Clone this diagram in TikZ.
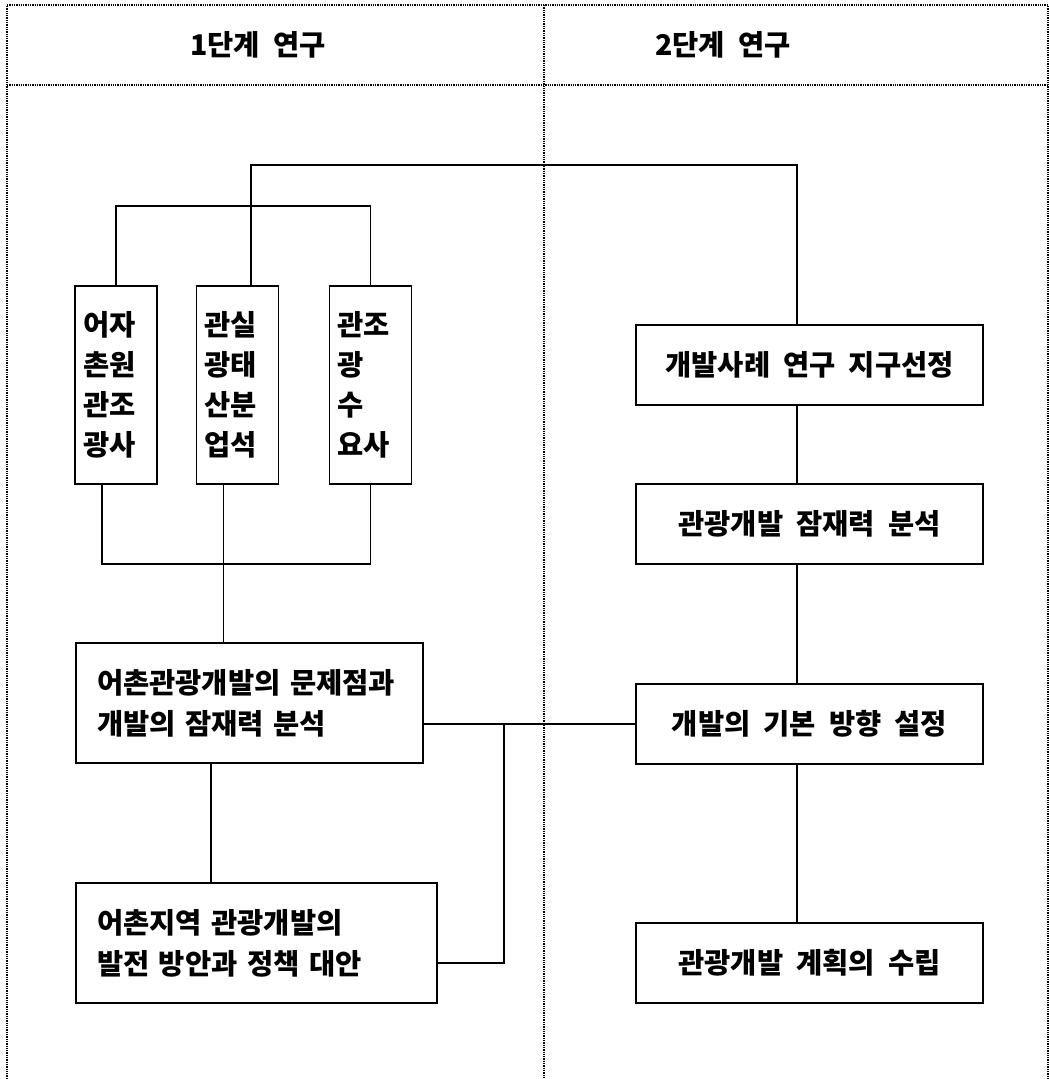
\documentclass[tikz,border=0pt]{standalone}
\usepackage{fontspec}
\newfontfamily\kr{Noto Sans CJK KR}[WordSpace=2]
\begin{document}
\begin{tikzpicture}[x=1pt,y=-1pt,
  frame/.style={densely dotted,line width=1.3pt},
  conn/.style={line width=1.6pt},
  txt/.style={font=\kr\bfseries\fontsize{28.5}{40}\selectfont},
  sbox/.style={draw,line width=1.7pt,txt,align=left,text width=66pt,inner xsep=8pt,inner ysep=0pt,minimum height=198pt},
  bbox/.style={draw,line width=1.7pt,font=\kr\bfseries\fontsize{28.5}{41}\selectfont,align=left,inner xsep=21pt,inner ysep=0pt,minimum height=120pt},
  rbox/.style={draw,line width=1.7pt,txt,align=center,minimum width=347pt,minimum height=80pt,inner sep=0pt}]
\useasboundingbox (0,0) rectangle (1049,1079);
% frame
\draw[frame] (7,1079) -- (7,5) -- (1048,5) -- (1048,1079);
\draw[frame] (7,85) -- (1048,85);
\draw[frame] (544,5) -- (544,1079);
% headers
\node[txt,anchor=west,inner sep=0pt] (h1) at (190,45) {1단계 연구};
\node[txt,anchor=west,inner sep=0pt] (h2) at (655,45) {2단계 연구};
% left column
\node[sbox] (b1) at (116,385) {\mbox{어자}\\\mbox{촌원}\\\mbox{관조}\\\mbox{광사}};
\node[sbox] (b2) at (237.5,385) {\mbox{관실}\\\mbox{광태}\\\mbox{산분}\\\mbox{업석}};
\node[sbox] (b3) at (370.5,385) {\mbox{관조}\\광\\수\\\mbox{요사}};
\node[bbox,text width=305pt] (m1) at (249.5,703) {\mbox{어촌관광개발의 문제점과}\\\mbox{개발의 잠재력 분석}};
\node[bbox,text width=319pt] (m2) at (256.5,943) {\mbox{어촌지역 관광개발의}\\\mbox{발전 방안과 정책 대안}};
% right column
\node[rbox] (r1) at (809.5,365) {개발사례 연구 지구선정};
\node[rbox] (r2) at (809.5,524) {관광개발 잠재력 분석};
\node[rbox] (r3) at (809.5,724) {개발의 기본 방향 설정};
\node[rbox] (r4) at (809.5,963) {관광개발 계획의 수립};
% junction coordinates
\coordinate (t1) at (251,165);
\coordinate (t2) at (797,165);
\coordinate (u1) at (116,206);
\coordinate (u2) at (370.5,206);
\coordinate (l1) at (102,564);
\coordinate (l2) at (370.5,564);
\coordinate (v1) at (504,724);
% connectors
\draw[conn] ([xshift=13.5pt]b2.north) -- (t1) -- (t2) -- ([xshift=-12.5pt]r1.north);
\draw[conn] (b1.north) -- (u1) -- (u2) -- (b3.north);
\draw[conn] ([xshift=-14pt]b1.south) -- (l1) -- (l2) -- (b3.south);
\draw[conn] ([xshift=-14pt]b2.south) -- ([xshift=-26pt]m1.north);
\draw[conn] ([xshift=-38.5pt]m1.south) -- ([xshift=-45.5pt]m2.north);
\draw[conn] ([yshift=-21pt]m1.east) -- (r3.west);
\draw[conn] (v1) |- ([yshift=-20pt]m2.east);
\draw[conn] ([xshift=-12.5pt]r1.south) -- ([xshift=-12.5pt]r2.north);
\draw[conn] ([xshift=-12.5pt]r2.south) -- ([xshift=-12.5pt]r3.north);
\draw[conn] ([xshift=-12.5pt]r3.south) -- ([xshift=-12.5pt]r4.north);
\end{tikzpicture}
\end{document}
